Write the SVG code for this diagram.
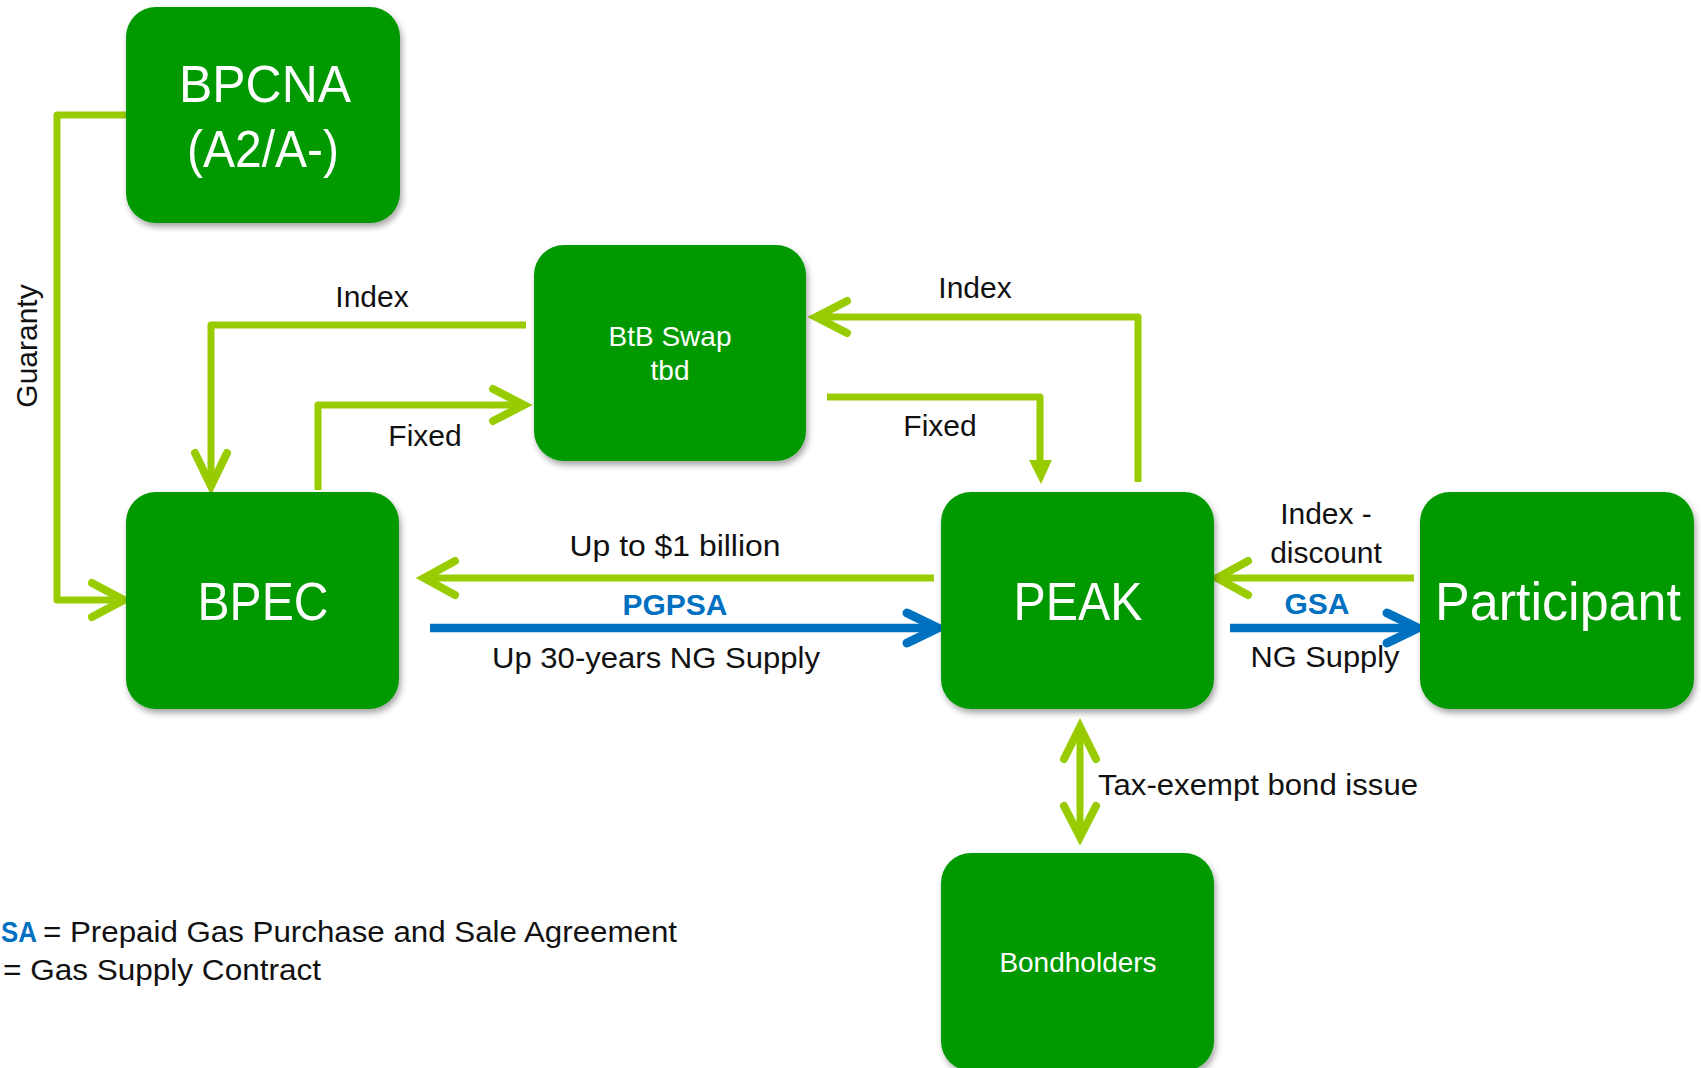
<svg xmlns="http://www.w3.org/2000/svg" width="1701" height="1068" viewBox="0 0 1701 1068">
<defs>
<filter id="sh" x="-10%" y="-10%" width="125%" height="130%">
<feDropShadow dx="2" dy="4" stdDeviation="3" flood-color="#000" flood-opacity="0.35"/>
</filter>
<style>
.node{fill:#009900;filter:url(#sh)}
.nt{fill:#fff;font-family:"Liberation Sans",Arial,sans-serif;text-anchor:middle}
.big{font-size:53px}
.sm{font-size:28px}
.lbl{fill:#111;font-family:"Liberation Sans",Arial,sans-serif;font-size:30px;text-anchor:middle}
.bl{fill:#0070C0;font-family:"Liberation Sans",Arial,sans-serif;font-size:30px;font-weight:bold;text-anchor:middle}
.g{fill:none;stroke:#99CC00;stroke-width:7;stroke-linejoin:round}
.gh{fill:none;stroke:#99CC00;stroke-width:8;stroke-linecap:round;stroke-linejoin:miter}
.b{fill:none;stroke:#0070C0;stroke-width:8.5}
.bh{fill:none;stroke:#0070C0;stroke-width:9;stroke-linecap:round;stroke-linejoin:miter}
</style>
</defs>
<rect width="1701" height="1068" fill="#fff"/>

<g id="connectors">
<path class="g" d="M126,115 H57 V600 H120"/>
<polyline class="gh" points="92,583 124,600 92,617"/>
<path class="g" d="M526,325 H211 V482"/>
<polyline class="gh" points="195,453 211,486 227,453"/>
<path class="g" d="M318,490 V405 H520"/>
<polyline class="gh" points="493,389 524,405 493,421"/>
<path class="g" d="M1138,482 V317 H820"/>
<polyline class="gh" points="847,301 816,317 847,333"/>
<path class="g" d="M827,397 H1040 V462"/>
<polygon points="1029,460 1052,460 1041,484" fill="#99CC00"/>
<path class="g" d="M934,578 H428"/>
<polyline class="gh" points="455,561 424,578 455,595"/>
<path class="b" d="M430,628 H934"/>
<polyline class="bh" points="907,613 938,628 907,643"/>
<path class="g" d="M1414,578 H1222"/>
<polyline class="gh" points="1248,561 1217,578 1248,595"/>
<path class="b" d="M1230,628 H1414"/>
<polyline class="bh" points="1387,613 1418,628 1387,643"/>
<path class="g" d="M1080,731 V833"/>
<polyline class="gh" points="1064,759 1080,727 1096,759"/>
<polyline class="gh" points="1064,806 1080,837 1096,806"/>
</g>

<g id="labels">
<text class="lbl" transform="translate(37,346) rotate(-90)">Guaranty</text>
<text class="lbl" x="372" y="307">Index</text>
<text class="lbl" x="425" y="446">Fixed</text>
<text class="lbl" x="975" y="298">Index</text>
<text class="lbl" x="940" y="436">Fixed</text>
<text class="lbl" x="675" y="556" textLength="211" lengthAdjust="spacingAndGlyphs">Up to $1 billion</text>
<text class="bl" x="675" y="615">PGPSA</text>
<text class="lbl" x="656" y="668" textLength="328" lengthAdjust="spacingAndGlyphs">Up 30-years NG Supply</text>
<text class="lbl" x="1326" y="524">Index -</text>
<text class="lbl" x="1326" y="563">discount</text>
<text class="bl" x="1317" y="614">GSA</text>
<text class="lbl" x="1325" y="667" textLength="149" lengthAdjust="spacingAndGlyphs">NG Supply</text>
<text class="lbl" x="1098" y="795" style="text-anchor:start" textLength="320" lengthAdjust="spacingAndGlyphs">Tax-exempt bond issue</text>
</g>

<g id="BPCNA">
<rect class="node" x="126" y="7" width="274" height="216" rx="30"/>
<text class="nt" x="265" y="102" font-size="52" textLength="172" lengthAdjust="spacingAndGlyphs">BPCNA</text>
<text class="nt" x="263" y="167" font-size="52" textLength="152" lengthAdjust="spacingAndGlyphs">(A2/A-)</text>
</g>
<g id="BtBSwap">
<rect class="node" x="534" y="245" width="272" height="216" rx="30"/>
<text class="nt sm" x="670" y="346">BtB Swap</text>
<text class="nt sm" x="670" y="380">tbd</text>
</g>
<g id="BPEC">
<rect class="node" x="126" y="492" width="273" height="217" rx="30"/>
<text class="nt big" x="263" y="620" textLength="131" lengthAdjust="spacingAndGlyphs">BPEC</text>
</g>
<g id="PEAK">
<rect class="node" x="941" y="492" width="273" height="217" rx="30"/>
<text class="nt big" x="1078" y="620" textLength="129" lengthAdjust="spacingAndGlyphs">PEAK</text>
</g>
<g id="Participant">
<rect class="node" x="1420" y="492" width="274" height="217" rx="30"/>
<text class="nt big" x="1558" y="620" textLength="246" lengthAdjust="spacingAndGlyphs">Participant</text>
</g>
<g id="Bondholders">
<rect class="node" x="941" y="853" width="273" height="218" rx="30"/>
<text class="nt sm" x="1078" y="972">Bondholders</text>
</g>

<g id="legend">
<text x="1" y="942" font-family="Liberation Sans, Arial, sans-serif" font-size="30" fill="#0070C0" font-weight="bold" textLength="36" lengthAdjust="spacingAndGlyphs">SA</text>
<text x="43" y="942" font-family="Liberation Sans, Arial, sans-serif" font-size="30" fill="#111" textLength="634" lengthAdjust="spacingAndGlyphs">= Prepaid Gas Purchase and Sale Agreement</text>
<text x="3" y="980" font-family="Liberation Sans, Arial, sans-serif" font-size="30" fill="#111" textLength="318" lengthAdjust="spacingAndGlyphs">= Gas Supply Contract</text>
</g>
</svg>
